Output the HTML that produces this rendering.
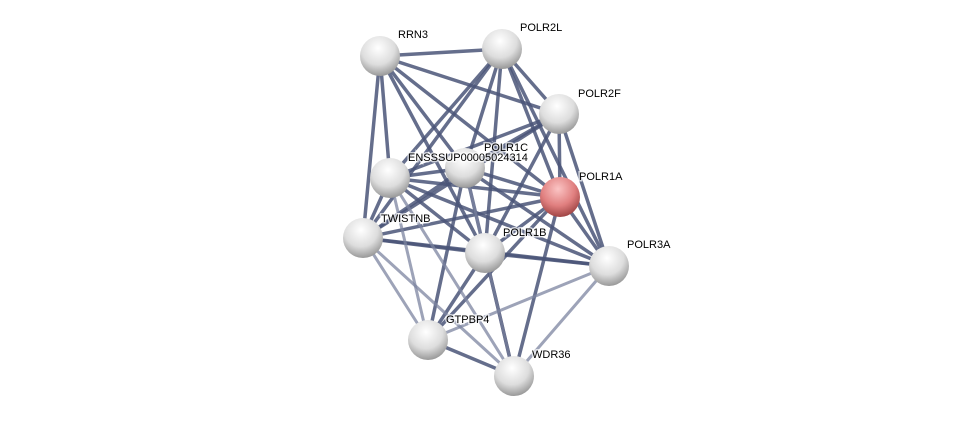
<!DOCTYPE html><html><head><style>body{margin:0;background:#fff}svg{display:block}text{font-family:"Liberation Sans",sans-serif;font-size:11px;fill:#000;paint-order:stroke;stroke:#fff;stroke-width:3px;stroke-opacity:.7}</style></head><body>
<svg width="976" height="421" viewBox="0 0 976 421">
<defs>
<radialGradient id="g" cx="45%" cy="30%" r="70%"><stop offset="0" stop-color="#fff"/><stop offset=".6" stop-color="#ddd"/><stop offset="1" stop-color="#999"/></radialGradient>
<radialGradient id="r" cx="45%" cy="30%" r="70%"><stop offset="0" stop-color="#fbc4c4"/><stop offset=".6" stop-color="#e07f7f"/><stop offset="1" stop-color="#a04545"/></radialGradient>
</defs>
<g stroke-linecap="round">
<g stroke="#4a5578" stroke-width="3.5" stroke-opacity=".85">
<line x1="380" y1="56" x2="502" y2="49"/><line x1="380" y1="56" x2="559" y2="114"/><line x1="380" y1="56" x2="390" y2="178"/><line x1="380" y1="56" x2="465" y2="168"/><line x1="380" y1="56" x2="560" y2="197"/><line x1="380" y1="56" x2="363" y2="238"/><line x1="380" y1="56" x2="485" y2="253"/>
<line x1="502" y1="49" x2="559" y2="114"/><line x1="502" y1="49" x2="390" y2="178"/><line x1="502" y1="49" x2="465" y2="168"/><line x1="502" y1="49" x2="560" y2="197"/><line x1="502" y1="49" x2="363" y2="238"/><line x1="502" y1="49" x2="485" y2="253"/><line x1="502" y1="49" x2="609" y2="266"/>
<line x1="559" y1="114" x2="390" y2="178"/><line x1="559" y1="114" x2="465" y2="168"/><line x1="559" y1="114" x2="560" y2="197"/><line x1="559" y1="114" x2="363" y2="238"/><line x1="559" y1="114" x2="485" y2="253"/><line x1="559" y1="114" x2="609" y2="266"/>
<line x1="390" y1="178" x2="465" y2="168"/><line x1="390" y1="178" x2="560" y2="197"/><line x1="390" y1="178" x2="363" y2="238"/><line x1="390" y1="178" x2="485" y2="253"/><line x1="390" y1="178" x2="609" y2="266"/>
<line x1="465" y1="168" x2="560" y2="197"/><line x1="465" y1="168" x2="363" y2="238"/><line x1="465" y1="168" x2="485" y2="253"/><line x1="465" y1="168" x2="609" y2="266"/>
<line x1="560" y1="197" x2="363" y2="238"/><line x1="560" y1="197" x2="485" y2="253"/><line x1="560" y1="197" x2="609" y2="266"/><line x1="560" y1="197" x2="514" y2="376"/><line x1="560" y1="197" x2="428" y2="340"/>
<line x1="363" y1="238" x2="485" y2="253"/><line x1="363" y1="238" x2="609" y2="266"/><line x1="485" y1="253" x2="609" y2="266"/>
<line x1="485" y1="253" x2="428" y2="340"/><line x1="485" y1="253" x2="514" y2="376" stroke="#2a3358"/><line x1="428" y1="340" x2="514" y2="376"/><line x1="465" y1="168" x2="428" y2="340"/>
</g>
<g stroke="#7c84a0" stroke-width="3" stroke-opacity=".75">
<line x1="363" y1="238" x2="428" y2="340"/><line x1="363" y1="238" x2="514" y2="376"/><line x1="390" y1="178" x2="428" y2="340"/><line x1="390" y1="178" x2="514" y2="376"/><line x1="428" y1="340" x2="609" y2="266"/><line x1="514" y1="376" x2="609" y2="266"/><line x1="465" y1="168" x2="514" y2="376"/>
</g>
</g>
<g>
<circle cx="380" cy="56" r="20" fill="url(#g)"/><circle cx="502" cy="49" r="20" fill="url(#g)"/><circle cx="559" cy="114" r="20" fill="url(#g)"/><circle cx="390" cy="178" r="20" fill="url(#g)"/><circle cx="465" cy="168" r="20" fill="url(#g)"/><circle cx="560" cy="197" r="20" fill="url(#r)"/><circle cx="363" cy="238" r="20" fill="url(#g)"/><circle cx="485" cy="253" r="20" fill="url(#g)"/><circle cx="609" cy="266" r="20" fill="url(#g)"/><circle cx="428" cy="340" r="20" fill="url(#g)"/><circle cx="514" cy="376" r="20" fill="url(#g)"/>
</g>
<text x="398" y="38">RRN3</text><text x="520" y="31">POLR2L</text><text x="578" y="97">POLR2F</text><text x="484" y="151">POLR1C</text><text x="408" y="161">ENSSSUP00005024314</text><text x="579" y="180">POLR1A</text><text x="381" y="222">TWISTNB</text><text x="503" y="236">POLR1B</text><text x="627" y="248">POLR3A</text><text x="446" y="323">GTPBP4</text><text x="532" y="358">WDR36</text>
</svg></body></html>
